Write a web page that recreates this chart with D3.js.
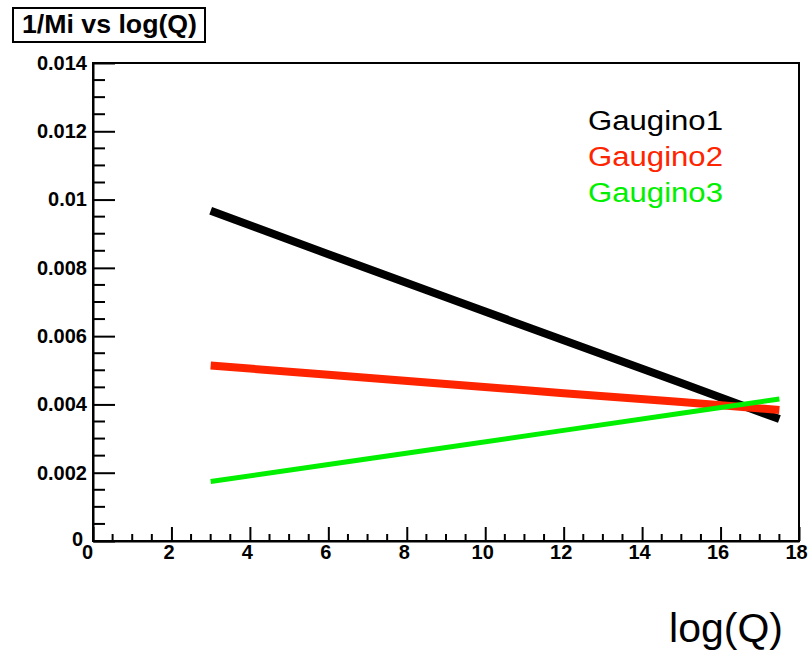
<!DOCTYPE html>
<html>
<head>
<meta charset="utf-8">
<script src="https://cdn.jsdelivr.net/npm/d3@7"></script>
<style>
  html, body { margin: 0; padding: 0; background: #fff; }
  svg { display: block; font-family: "Liberation Sans", Arial, Helvetica, sans-serif; }
</style>
</head>
<body>
<svg id="chart" width="808" height="651"></svg>
<script>
// Running of the inverse gaugino masses with log(Q)
const logQ     = [3.0, 6.0, 9.0, 12.0, 15.0, 17.5];
const gaugino1 = [0.00967, 0.00840, 0.00714, 0.00588, 0.00463, 0.00357];
const gaugino2 = [0.00514, 0.00487, 0.00460, 0.00433, 0.00407, 0.00384];
const gaugino3 = [0.00174, 0.00224, 0.00274, 0.00324, 0.00374, 0.00416];

const seriesNames  = ["Gaugino1", "Gaugino2", "Gaugino3"];
const seriesColors = ["#000000", "#ff2400", "#00f000"];
const seriesWidths = [8, 8, 5];

const xTickValues = [0, 2, 4, 6, 8, 10, 12, 14, 16, 18];
const yTickValues = [0, 0.002, 0.004, 0.006, 0.008, 0.010, 0.012, 0.014];

const titleText = "1/Mi vs log(Q)";
const xTitle = "log(Q)";

const width = 808, height = 651;
const margin = { top: 63, right: 9, bottom: 110, left: 93 };
const plotW = width - margin.left - margin.right;
const plotH = height - margin.top - margin.bottom;

const svg = d3.select("#chart");

const x = d3.scaleLinear().domain([0, 18]).range([0, plotW]);
const y = d3.scaleLinear().domain([0, 0.014]).range([plotH, 0]);

const g = svg.append("g").attr("transform", `translate(${margin.left},${margin.top})`);

// frame
g.append("rect")
  .attr("x", 0).attr("y", 0)
  .attr("width", plotW).attr("height", plotH)
  .attr("fill", "none").attr("stroke", "#000").attr("stroke-width", 2);

// minor ticks (4 subdivisions per major interval), pointing inward
const xMinor = d3.range(0, 18.0001, 0.5).filter(v => Math.abs(v / 2 - Math.round(v / 2)) > 1e-6);
const yMinor = d3.range(0, 0.014 + 1e-9, 0.0005).filter(v => Math.abs(v / 0.002 - Math.round(v / 0.002)) > 1e-6);

g.append("g").selectAll("line").data(xMinor).join("line")
  .attr("x1", d => x(d)).attr("x2", d => x(d))
  .attr("y1", plotH).attr("y2", plotH - 7)
  .attr("stroke", "#000").attr("stroke-width", 2);

g.append("g").selectAll("line").data(yMinor).join("line")
  .attr("x1", 0).attr("x2", 12)
  .attr("y1", d => y(d)).attr("y2", d => y(d))
  .attr("stroke", "#000").attr("stroke-width", 2);

// major axes
const xAxis = d3.axisBottom(x).tickValues(xTickValues).tickFormat(d3.format("~g"))
  .tickSizeInner(-14).tickSizeOuter(0).tickPadding(4);
const yAxis = d3.axisLeft(y).tickValues(yTickValues).tickFormat(d3.format("~g"))
  .tickSizeInner(-22).tickSizeOuter(0).tickPadding(6);

const gx = g.append("g").attr("transform", `translate(0,${plotH})`).call(xAxis);
const gy = g.append("g").call(yAxis);

[gx, gy].forEach(ax => {
  ax.select(".domain").attr("stroke", "#000").attr("stroke-width", 2);
  ax.selectAll(".tick line").attr("stroke", "#000").attr("stroke-width", 2);
  ax.selectAll(".tick text")
    .attr("fill", "#000")
    .attr("font-family", "'Liberation Sans', Arial, sans-serif")
    .attr("font-weight", "bold")
    .attr("font-size", 20);
});
gx.selectAll(".tick text").attr("dx", -3);
// the two zero labels sit side by side in the corner
gy.selectAll(".tick").filter(d => d === 0).select("text").attr("dy", "0.2em").attr("x", -10);
gx.selectAll(".tick").filter(d => d === 0).select("text").attr("dx", -6);

// series lines
const line = d3.line().x(d => x(d[0])).y(d => y(d[1]));
const seriesValues = [gaugino1, gaugino2, gaugino3];

seriesValues.forEach((vals, i) => {
  g.append("path")
    .datum(logQ.map((q, k) => [q, vals[k]]))
    .attr("d", line)
    .attr("fill", "none")
    .attr("stroke", seriesColors[i])
    .attr("stroke-width", seriesWidths[i])
    .attr("stroke-linecap", "butt");
});

// legend
const legend = svg.append("g");
seriesNames.forEach((name, i) => {
  legend.append("text")
    .attr("x", 588).attr("y", 130 + i * 36)
    .attr("fill", seriesColors[i])
    .attr("font-size", 27)
    .attr("textLength", 135)
    .attr("lengthAdjust", "spacingAndGlyphs")
    .text(name);
});

// title box
svg.append("rect")
  .attr("x", 13).attr("y", 8).attr("width", 192).attr("height", 34)
  .attr("fill", "#fff").attr("stroke", "#000").attr("stroke-width", 2);
svg.append("text")
  .attr("x", 22).attr("y", 33)
  .attr("font-weight", "bold").attr("font-size", 25)
  .attr("textLength", 175).attr("lengthAdjust", "spacingAndGlyphs")
  .text(titleText);

// x-axis title
svg.append("text")
  .attr("x", 783).attr("y", 642)
  .attr("text-anchor", "end")
  .attr("font-size", 41)
  .text(xTitle);
</script>
</body>
</html>
